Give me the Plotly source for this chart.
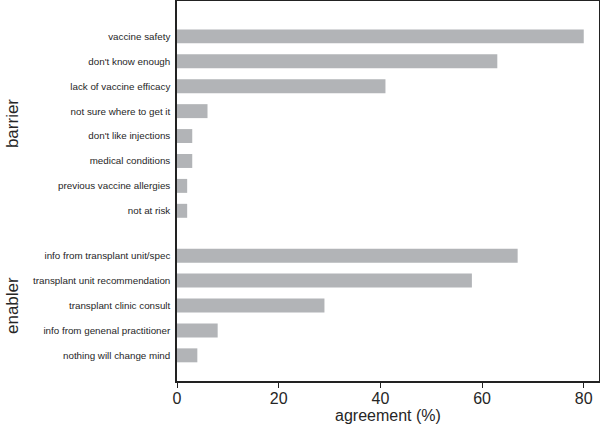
import plotly.graph_objects as go

barrier_labels = ["vaccine safety", "don't know enough", "lack of vaccine efficacy",
                  "not sure where to get it", "don't like injections", "medical conditions",
                  "previous vaccine allergies", "not at risk"]
barrier_values = [80, 63, 41, 6, 3, 3, 2, 2]

enabler_labels = ["info from transplant unit/spec", "transplant unit recommendation",
                  "transplant clinic consult", "info from genenal practitioner",
                  "nothing will change mind"]
enabler_values = [67, 58, 29, 8, 4]

x_ticks = [0, 20, 40, 60, 80]
group_names = ["barrier", "enabler"]
x_title = "agreement (%)"

GAP = 0.8
b_pos = list(range(len(barrier_labels)))
e_pos = [len(barrier_labels) + GAP + j for j in range(len(enabler_labels))]

labels = barrier_labels + enabler_labels
values = barrier_values + enabler_values
positions = b_pos + e_pos

FONT = "Liberation Sans, Arial, sans-serif"
TXT = "#262626"
PLOT_W = 422

fig = go.Figure(go.Bar(
    x=values, y=positions, orientation="h", width=0.56,
    marker=dict(color="#b2b4b7", line=dict(width=0)),
    hoverinfo="x+text", text=labels, textposition="none",
))

fig.update_layout(
    width=600, height=425,
    margin=dict(l=177, r=1, t=1, b=44, autoexpand=False),
    paper_bgcolor="white", plot_bgcolor="white",
    showlegend=False,
    font=dict(family=FONT, color=TXT),
    xaxis=dict(
        range=[0, 83], tickvals=x_ticks, ticks="outside", ticklen=5, tickwidth=1,
        tickcolor="#222", showgrid=False, zeroline=False, automargin=False,
        showline=True, linecolor="#222", linewidth=1.5, mirror=True,
        tickfont=dict(size=16, color=TXT, family=FONT), ticklabelstandoff=-3,
    ),
    yaxis=dict(
        range=[max(positions) + 1.03, -1.42], tickvals=positions, ticktext=labels,
        ticks="", showgrid=False, zeroline=False, automargin=False,
        showline=True, linecolor="#222", linewidth=1.5, mirror=True,
        tickfont=dict(size=9.8, color=TXT, family=FONT), ticklabelstandoff=3,
    ),
)

group_centers = [(b_pos[0] + b_pos[-1]) / 2, (e_pos[0] + e_pos[-1]) / 2]
for name, yc in zip(group_names, group_centers):
    fig.add_annotation(
        text=name, x=(12.5 - 177) / PLOT_W, xref="paper", y=yc, yref="y",
        textangle=-90, showarrow=False, xanchor="center", yanchor="middle",
        font=dict(size=17, color=TXT, family=FONT),
    )

fig.add_annotation(
    text=x_title, x=0.5, xref="paper", y=-34 / 380, yref="paper",
    showarrow=False, xanchor="center", yanchor="middle",
    font=dict(size=16, color=TXT, family=FONT),
)

fig.write_html("out.html", config={"displayModeBar": False},
               post_script="document.body.style.margin='0';document.body.style.overflow='hidden';")
